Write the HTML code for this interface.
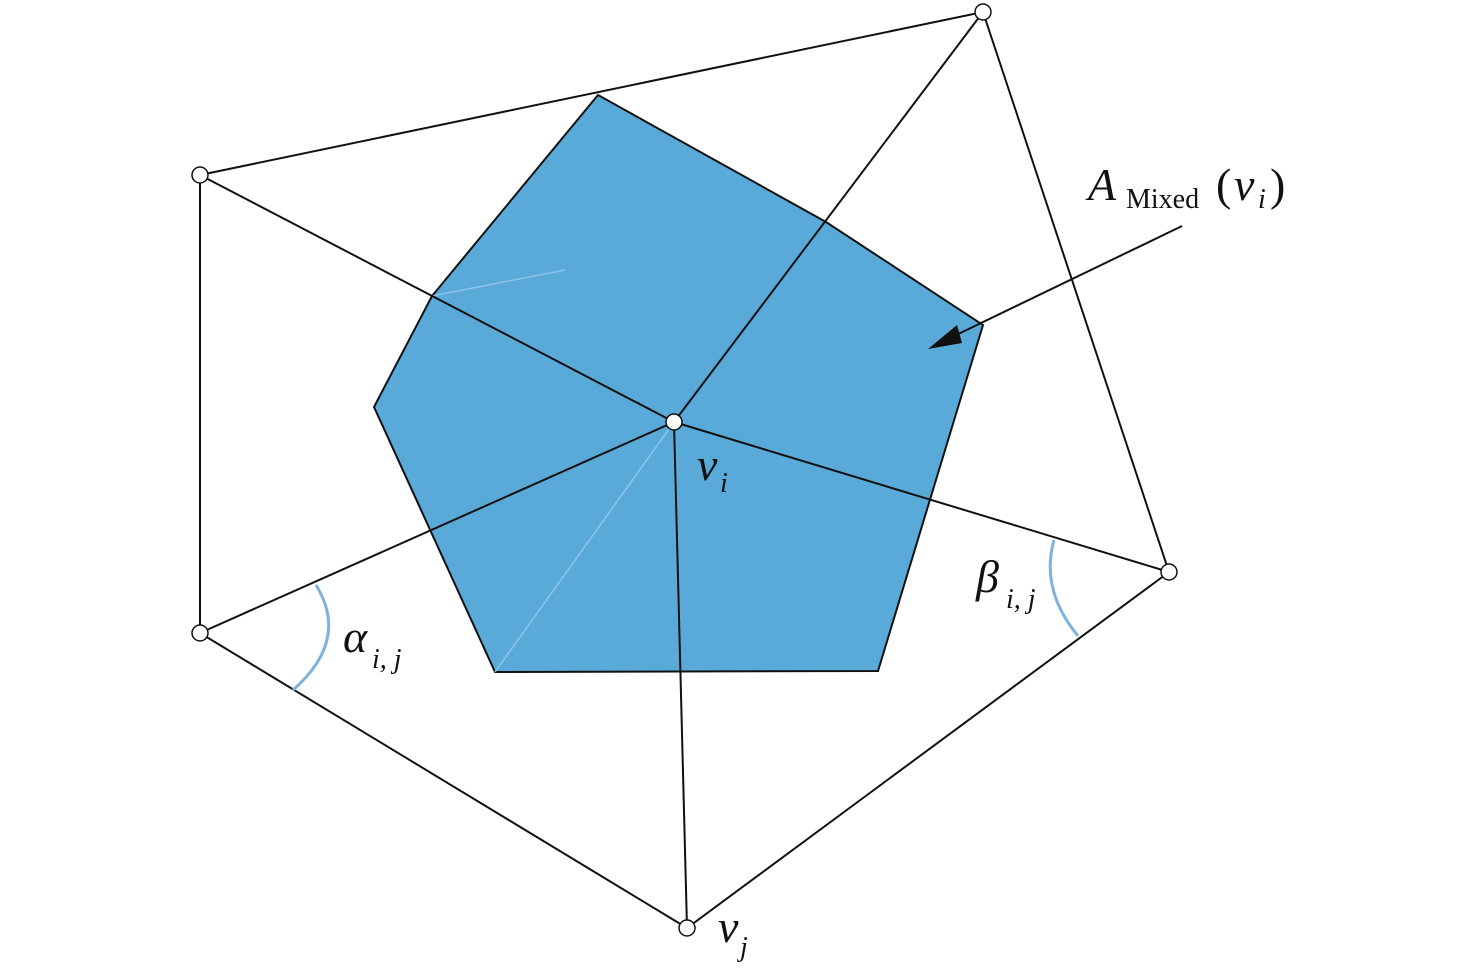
<!DOCTYPE html>
<html><head><meta charset="utf-8"><style>
html,body{margin:0;padding:0;background:#fff;}
svg{display:block;}
text{font-family:"Liberation Serif",serif;font-style:italic;fill:#111;}
</style></head><body>
<svg width="1476" height="974" viewBox="0 0 1476 974" xmlns="http://www.w3.org/2000/svg">
<polygon points="598,95 826,222 983,325 878,671 495,672 374,407 432,296" fill="#5aaad9" stroke="#111" stroke-width="2"/>
<line x1="432" y1="296" x2="565" y2="270" stroke="#8cc4e8" stroke-width="1.5"/>
<line x1="674" y1="422" x2="495" y2="672" stroke="#8cc4e8" stroke-width="1.5"/>
<g stroke="#111" stroke-width="2" fill="none">
<polygon points="200,175 983,12 1169,572 687,928 200,633"/>
<line x1="674" y1="422" x2="200" y2="175"/>
<line x1="674" y1="422" x2="983" y2="12"/>
<line x1="674" y1="422" x2="1169" y2="572"/>
<line x1="674" y1="422" x2="687" y2="928"/>
<line x1="674" y1="422" x2="200" y2="633"/>
<line x1="1182" y1="226" x2="950" y2="338"/>
</g>
<polygon points="928,349 957,325 962,343" fill="#111"/>
<g stroke="#7fb3de" stroke-width="3" fill="none">
<path d="M316,585 Q350,640 293,690"/>
<path d="M1054,540 Q1040,590 1078,636"/>
</g>
<g fill="#fff" stroke="#111" stroke-width="1.5">
<circle cx="200" cy="175" r="8"/><circle cx="983" cy="12" r="8"/>
<circle cx="1169" cy="572" r="8"/><circle cx="687" cy="928" r="8"/>
<circle cx="200" cy="633" r="8"/><circle cx="674" cy="422" r="8"/>
</g>
<text x="1088" y="200" font-size="46">A</text>
<text x="1126" y="208" font-size="28" style="font-style:normal">Mixed</text>
<text x="1216" y="200" font-size="46" style="font-style:normal">(</text>
<text x="1234" y="200" font-size="46">v</text>
<text x="1258" y="208" font-size="28">i</text>
<text x="1270" y="200" font-size="46" style="font-style:normal">)</text>
<text x="697" y="480" font-size="46">v</text>
<text x="720" y="492" font-size="28">i</text>
<text x="718" y="942" font-size="46">v</text>
<text x="740" y="956" font-size="28">j</text>
<text x="343" y="652" font-size="46">α</text>
<text x="372" y="668" font-size="28">i, j</text>
<text x="976" y="592" font-size="46">β</text>
<text x="1006" y="608" font-size="28">i, j</text>
</svg>
</body></html>
